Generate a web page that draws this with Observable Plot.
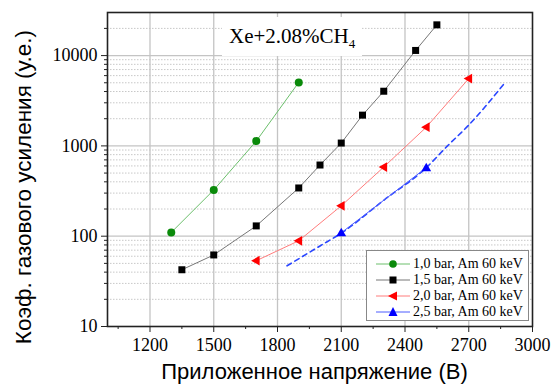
<!DOCTYPE html>
<html>
<head>
<meta charset="utf-8">
<script src="https://cdn.jsdelivr.net/npm/d3@7"></script>
<script src="https://cdn.jsdelivr.net/npm/@observablehq/plot@0.6"></script>
<style>
  html, body { margin: 0; padding: 0; background: #fff; }
  #wrap { position: relative; width: 554px; height: 385px; overflow: hidden; }
  #wrap > svg { position: absolute; left: 0; top: 0; }
  .note { position: absolute; left: 222px; top: 17px; width: 140px; height: 39px; background: #fff;
          font-family: "Liberation Serif", "Times New Roman", serif; font-size: 21px; color: #000;
          box-sizing: border-box; padding-left: 7px; line-height: 38px; white-space: nowrap; }
  .note sub { font-size: 13px; vertical-align: -5px; line-height: 0; }
  .legend { position: absolute; left: 366px; top: 250px; width: 163px; height: 71px; background: #fff;
            border: 1px solid #888; box-sizing: border-box; padding-top: 5px;
            font-family: "Liberation Serif", "Times New Roman", serif; font-size: 14px; color: #000; }
  .legend .row { display: flex; align-items: center; height: 16px; white-space: nowrap; }
  .legend .row svg { display: block; margin-left: 9px; margin-right: 3px; flex: none; }
</style>
</head>
<body>
<div id="wrap"></div>
<script>
// ---- data ----
const voltage10 = [1300, 1500, 1700, 1900];
const gain10    = [110, 325, 1130, 5050];

const voltage15 = [1350, 1500, 1700, 1900, 2000, 2100, 2200, 2300, 2450, 2550];
const gain15    = [42.5, 62, 130, 342, 614, 1075, 2190, 4030, 11400, 21900];

const voltage20 = [1700, 1900, 2100, 2300, 2500, 2700];
const gain20    = [53.5, 89, 217, 583, 1610, 5560];

const voltage25 = [2100, 2500];
const gain25    = [109, 573];

const fitVoltage25 = [1845, 2000, 2100, 2300, 2500, 2600, 2700, 2870];
const fitGain25    = [47, 78, 108, 250, 573, 1000, 1700, 5000];

const seriesLabels = ["1,0 bar, Am 60 keV", "1,5 bar, Am 60 keV", "2,0 bar, Am 60 keV", "2,5 bar, Am 60 keV"];

const xTicks = [1200, 1500, 1800, 2100, 2400, 2700, 3000];
const xMinorTicks = [1050, 1350, 1650, 1950, 2250, 2550, 2850];
const xGrid = [1200, 1500, 1800, 2100, 2400, 2700];
const yTicks = [10, 100, 1000, 10000];
const yMinorTicks = [20,30,40,50,60,70,80,90, 200,300,400,500,600,700,800,900,
                     2000,3000,4000,5000,6000,7000,8000,9000, 20000];
const yGrid = [100, 1000, 10000];

const xTitle = "Приложенное напряжение (В)";
const yTitle = "Коэф. газового усиления (у.е.)";

// ---- build ----
const zip = (xs, ys) => xs.map((x, i) => ({x, y: ys[i]}));
const d10 = zip(voltage10, gain10);
const d15 = zip(voltage15, gain15);
const d20 = zip(voltage20, gain20);
const d25 = zip(voltage25, gain25);
const f25 = zip(fitVoltage25, fitGain25);

const triUp = { draw(ctx, size) { const r = Math.sqrt(size / Math.PI); const h = r * 1.7, w = r * 1.95;
  ctx.moveTo(0, -h * 0.6); ctx.lineTo(w / 2, h * 0.4); ctx.lineTo(-w / 2, h * 0.4); ctx.closePath(); } };
const triLeft = { draw(ctx, size) { const r = Math.sqrt(size / Math.PI); const h = r * 1.7, w = r * 1.95;
  ctx.moveTo(-h * 0.6, 0); ctx.lineTo(h * 0.4, -w / 2); ctx.lineTo(h * 0.4, w / 2); ctx.closePath(); } };
const sq = { draw(ctx, size) { const r = Math.sqrt(size / Math.PI); const s = r * 1.75;
  ctx.rect(-s / 2, -s / 2, s, s); } };

const serif = "Liberation Serif, Times New Roman, serif";
const sans = "Liberation Sans, Arial, sans-serif";

const chart = Plot.plot({
  width: 554, height: 385,
  marginLeft: 107, marginRight: 22, marginTop: 12, marginBottom: 59,
  x: {domain: [1000, 3000]},
  y: {type: "log", domain: [10, 30000]},
  marks: [
    Plot.ruleY(yMinorTicks, {stroke: "#c8c8c8", strokeWidth: 1, strokeDasharray: "1.5,1.5"}),
    Plot.ruleX(xGrid, {stroke: "#c4c4c4", strokeWidth: 1.3}),
    Plot.ruleY(yGrid, {stroke: "#c4c4c4", strokeWidth: 1.3}),
    Plot.axisX({ticks: xTicks, tickFormat: d => String(d), tickSize: 6, tickPadding: 6,
                fontSize: 18, fontFamily: serif, label: null, stroke: "#222", color: "#000"}),
    Plot.axisX({ticks: xMinorTicks, tickFormat: () => "", tickSize: 3, label: null, stroke: "#222"}),
    Plot.axisY({ticks: yTicks, tickFormat: d => String(d), tickSize: 6, tickPadding: 4,
                fontSize: 18, fontFamily: serif, label: null, stroke: "#222", color: "#000"}),
    Plot.axisY({ticks: yMinorTicks, tickFormat: () => "", tickSize: 3, label: null, stroke: "#222"}),
    Plot.line(f25, {x: "x", y: "y", stroke: "#2a46ff", strokeWidth: 1.6, strokeDasharray: "5,4", curve: "monotone-x"}),
    Plot.line(d25, {x: "x", y: "y", stroke: "#4c5cff", strokeWidth: 1}),
    Plot.line(d20, {x: "x", y: "y", stroke: "#ff7c7c", strokeWidth: 1}),
    Plot.line(d15, {x: "x", y: "y", stroke: "#777777", strokeWidth: 1}),
    Plot.line(d10, {x: "x", y: "y", stroke: "#6cbf6c", strokeWidth: 1}),
    Plot.dot(d10, {x: "x", y: "y", r: 4, fill: "#0a8a0a", symbol: "circle"}),
    Plot.dot(d15, {x: "x", y: "y", r: 4, fill: "#000", symbol: sq}),
    Plot.dot(d20, {x: "x", y: "y", r: 5, fill: "#ff0000", symbol: triLeft}),
    Plot.dot(d25, {x: "x", y: "y", r: 5, fill: "#0000ff", symbol: triUp}),
    Plot.frame({stroke: "#222", strokeWidth: 1.6}),
    Plot.text([xTitle], {frameAnchor: "bottom", textAnchor: "middle", lineAnchor: "middle", dy: 45.5, dx: -5.5,
                         fontSize: 22, fontFamily: sans, fill: "#000"}),
    Plot.text([yTitle], {frameAnchor: "left", textAnchor: "middle", lineAnchor: "middle", rotate: -90,
                         dx: -84, dy: 17.5, fontSize: 22.5, fontFamily: sans, fill: "#000"})
  ]
});

const wrap = document.getElementById("wrap");
wrap.appendChild(chart);

// annotation
const note = document.createElement("div");
note.className = "note";
note.innerHTML = "Xe+2.08%CH<sub>4</sub>";
wrap.appendChild(note);

// legend
const legendStyles = [
  {line: "#6cbf6c", fill: "#0a8a0a", shape: "circle"},
  {line: "#777777", fill: "#000", shape: "square"},
  {line: "#ff7c7c", fill: "#ff0000", shape: "left"},
  {line: "#4c5cff", fill: "#0000ff", shape: "up"}
];
const leg = document.createElement("div");
leg.className = "legend";
seriesLabels.forEach((lab, i) => {
  const st = legendStyles[i];
  let m = "";
  if (st.shape === "circle") m = `<circle cx="17" cy="6" r="3.8" fill="${st.fill}"/>`;
  if (st.shape === "square") m = `<rect x="13.5" y="2.5" width="7" height="7" fill="${st.fill}"/>`;
  if (st.shape === "left") m = `<path d="M12 6 L21 1.5 L21 10.5 Z" fill="${st.fill}"/>`;
  if (st.shape === "up") m = `<path d="M17 1 L21.5 10 L12.5 10 Z" fill="${st.fill}"/>`;
  const row = document.createElement("div");
  row.className = "row";
  row.innerHTML = `<svg width="34" height="12" viewBox="0 0 34 12"><line x1="0" y1="6" x2="34" y2="6" stroke="${st.line}" stroke-width="1"/>${m}</svg><span>${lab}</span>`;
  leg.appendChild(row);
});
wrap.appendChild(leg);
</script>
</body>
</html>
